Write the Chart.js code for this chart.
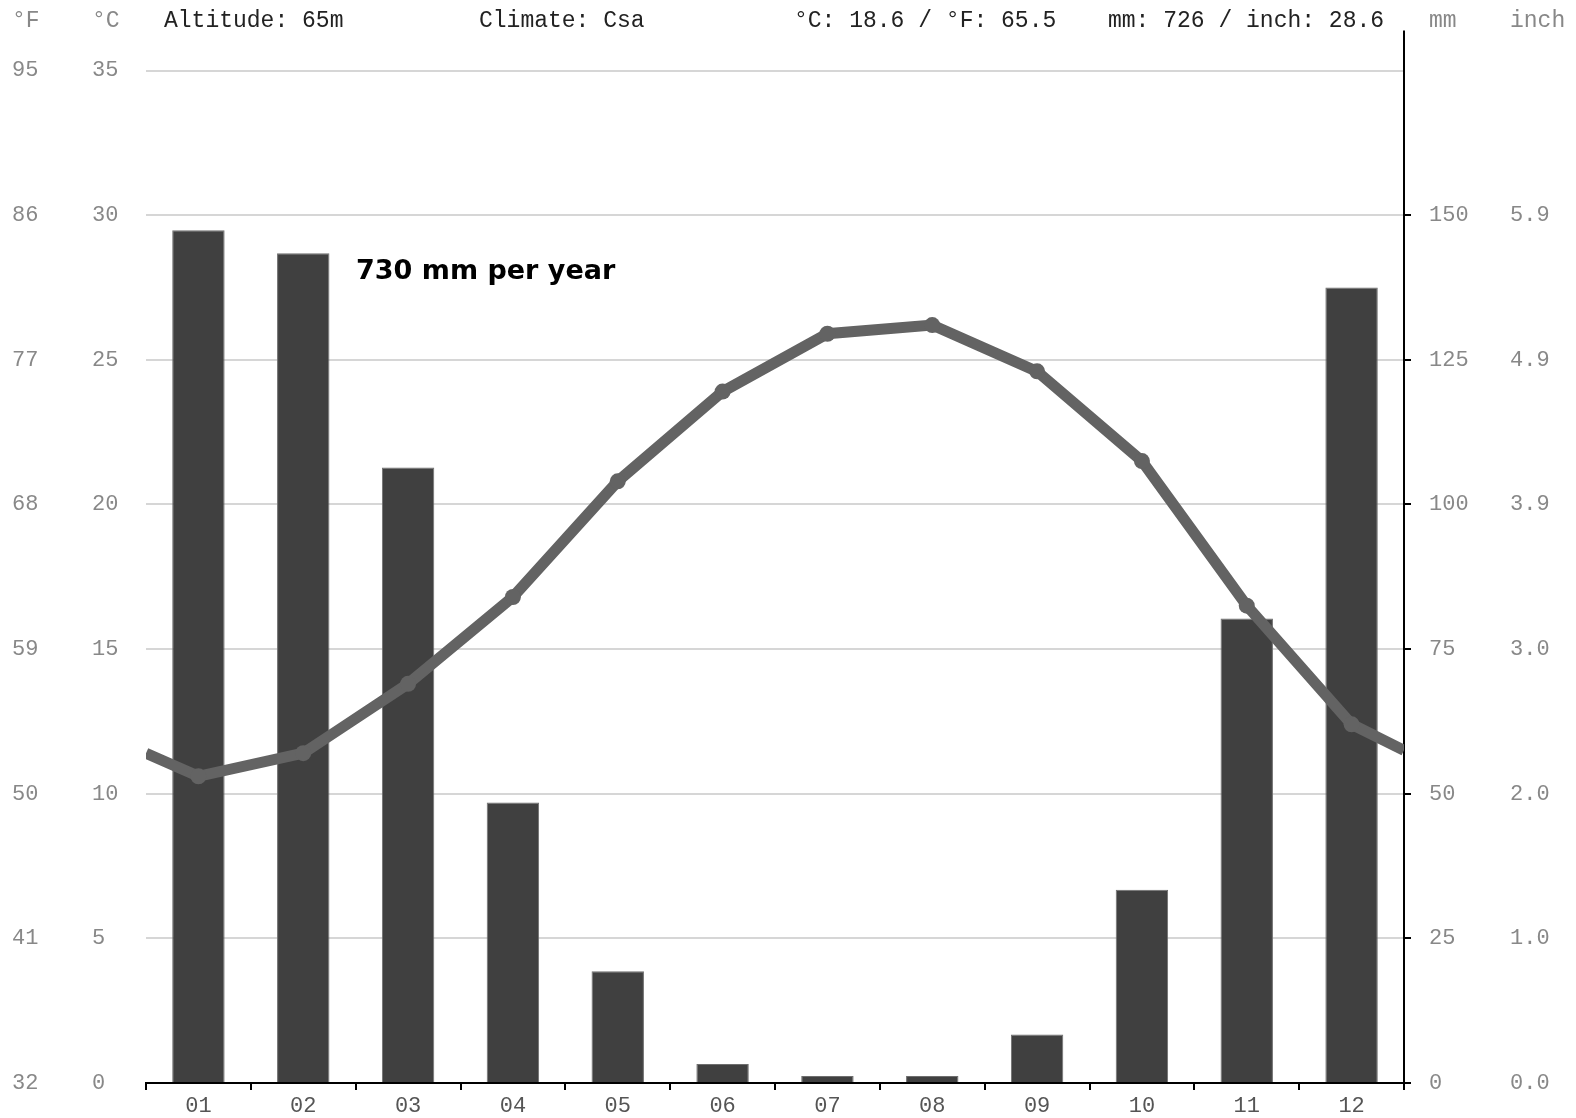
<!DOCTYPE html>
<html>
<head>
<meta charset="utf-8">
<script src="https://cdn.jsdelivr.net/npm/chart.js@4.4.1/dist/chart.umd.min.js"></script>
<style>
  html, body { margin: 0; padding: 0; background: #fff; }
  #wrap { width: 1576px; height: 1118px; position: relative; }
</style>
</head>
<body>
<div id="wrap"><canvas id="chart"></canvas></div>
<script>
const months = ["01", "02", "03", "04", "05", "06", "07", "08", "09", "10", "11", "12"];
const precipMm = [147.4, 143.4, 106.4, 48.5, 19.3, 3.3, 1.2, 1.2, 8.4, 33.4, 80.3, 137.5];
const tempC = [10.6, 11.4, 13.8, 16.8, 20.8, 23.9, 25.9, 26.2, 24.6, 21.5, 16.5, 12.4];
// where the curve meets the left and right frame (Dec -> Jan wrap)
const tempEdges = [11.4, 11.5];
const fahrenheitLabels = ["32", "41", "50", "59", "68", "77", "86", "95"];
const inchLabels = ["0.0", "1.0", "2.0", "3.0", "3.9", "4.9", "5.9"];
const headerTexts = ["Altitude: 65m", "Climate: Csa", "°C: 18.6 / °F: 65.5", "mm: 726 / inch: 28.6"];
const headerX = [164, 479, 794, 1108];
const yearText = "730 mm per year";

const tickFont = { family: "Liberation Mono", size: 22 };

const lineData = [{ x: 0.5, y: tempEdges[0] }]
    .concat(tempC.map((t, i) => ({ x: i + 1, y: t })))
    .concat([{ x: 12.5, y: tempEdges[1] }]);
const lineRadius = lineData.map((p, i) => (i === 0 || i === lineData.length - 1) ? 0 : 8);

const decorations = {
    id: "decorations",
    afterDraw(chart) {
        const { ctx, chartArea, scales } = chart;
        ctx.save();

        // right axis runs on above the plot
        ctx.strokeStyle = "#000";
        ctx.lineWidth = 2;
        ctx.beginPath();
        ctx.moveTo(chartArea.right, chartArea.top);
        ctx.lineTo(chartArea.right, chartArea.top - 40);
        ctx.stroke();

        ctx.font = '23px "Liberation Mono"';
        ctx.textBaseline = "middle";
        ctx.textAlign = "left";

        ctx.fillStyle = "#888";
        ctx.fillText("°F", scales.yF.left, 21);
        ctx.fillText("°C", scales.yC.left, 21);
        ctx.fillText("mm", scales.yMm.left + 25, 21);
        ctx.fillText("inch", scales.yIn.left, 21);

        ctx.fillStyle = "#222";
        headerTexts.forEach((t, i) => ctx.fillText(t, headerX[i], 21));

        ctx.font = 'bold 27px "DejaVu Sans"';
        ctx.fillStyle = "#000";
        ctx.textBaseline = "alphabetic";
        ctx.fillText(yearText, chartArea.left + 210, 279);

        ctx.restore();
    }
};

new Chart(document.getElementById("chart"), {
    type: "bar",
    data: {
        labels: months,
        datasets: [
        {
            type: "line",
            data: lineData,
            xAxisID: "xl",
            yAxisID: "yC",
            borderColor: "#636363",
            backgroundColor: "#636363",
            borderWidth: 11,
            pointRadius: lineRadius,
            pointBorderWidth: 0,
            pointBackgroundColor: "#636363",
            tension: 0,
            order: 0
        },
        {
            type: "bar",
            data: precipMm,
            xAxisID: "x",
            yAxisID: "yMm",
            backgroundColor: "#404040",
            borderColor: "#6e6e6e",
            borderWidth: 1,
            grouped: false,
            barPercentage: 0.5,
            categoryPercentage: 1.0,
            order: 1
        }]
    },
    options: {
        responsive: true,
        maintainAspectRatio: false,
        animation: false,
        layout: { padding: { left: 12, top: 70.5, right: 0, bottom: 0 } },
        plugins: {
            legend: { display: false },
            tooltip: { enabled: false }
        },
        scales: {
            x: {
                type: "category",
                position: "bottom",
                grid: { drawOnChartArea: false, offset: true, tickLength: 7, color: "#000", lineWidth: 2 },
                border: { display: true, color: "#000", width: 2 },
                ticks: { color: "#555", font: tickFont, padding: 3, maxRotation: 0, autoSkip: false },
                afterFit: (s) => { s.height = 35; }
            },
            xl: {
                type: "linear",
                display: false,
                offset: false,
                grid: { offset: false },
                min: 0.5,
                max: 12.5
            },
            yF: {
                position: "left",
                weight: 1,
                min: 0, max: 35,
                grid: { display: false, drawTicks: false },
                border: { display: false },
                ticks: {
                    stepSize: 5, color: "#888", font: tickFont, crossAlign: "far", padding: 0,
                    callback: (v, i) => fahrenheitLabels[i]
                },
                afterFit: (s) => { s.width = 80; }
            },
            yC: {
                position: "left",
                weight: 0,
                min: 0, max: 35,
                grid: {
                    drawTicks: false,
                    lineWidth: 2,
                    color: (c) => c.tick && c.tick.value === 0 ? "rgba(0,0,0,0)" : "#d6d6d6"
                },
                border: { display: false },
                ticks: { stepSize: 5, color: "#888", font: tickFont, crossAlign: "far", padding: 0 },
                afterFit: (s) => { s.width = 54; }
            },
            yMm: {
                position: "right",
                weight: 0,
                min: 0, max: 175,
                grid: { drawOnChartArea: false, tickLength: 7, color: "#000", lineWidth: 2 },
                border: { display: true, color: "#000", width: 2 },
                ticks: { stepSize: 25, color: "#888", font: tickFont, padding: 18 },
                afterBuildTicks: (s) => { s.ticks = s.ticks.filter(t => t.value <= 150); },
                afterFit: (s) => { s.width = 106; }
            },
            yIn: {
                position: "right",
                weight: 1,
                min: 0, max: 175,
                grid: { display: false, drawTicks: false },
                border: { display: false },
                ticks: {
                    stepSize: 25, color: "#888", font: tickFont, padding: 0,
                    callback: (v, i) => inchLabels[i]
                },
                afterBuildTicks: (s) => { s.ticks = s.ticks.filter(t => t.value <= 150); },
                afterFit: (s) => { s.width = 66; }
            }
        }
    },
    plugins: [decorations]
});
</script>
</body>
</html>
